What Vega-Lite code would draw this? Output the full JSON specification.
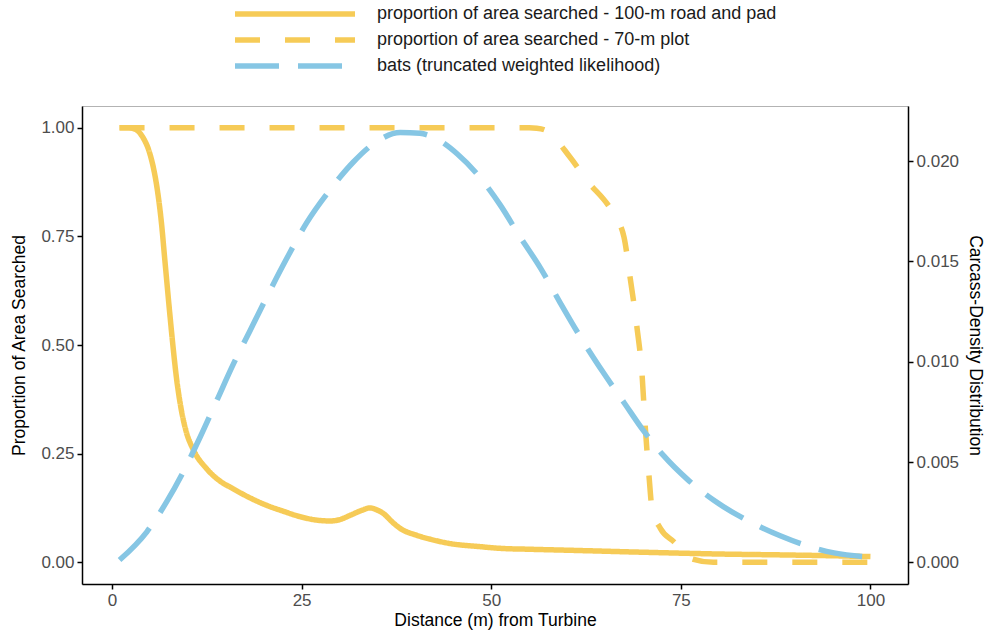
{
  "$schema": "https://vega.github.io/schema/vega-lite/v6.json",
  "width": 826,
  "height": 478,
  "autosize": {"type": "none"},
  "padding": {"left": 82, "top": 106, "right": 83, "bottom": 48},
  "background": "white",
  "config": {
    "view": {"stroke": "#b3b3b3", "strokeWidth": 1},
    "axis": {
      "grid": false,
      "labelFont": "Liberation Sans",
      "titleFont": "Liberation Sans",
      "labelFontSize": 17,
      "labelColor": "#4d4d4d",
      "titleFontSize": 17.5,
      "titleFontWeight": "normal",
      "titleColor": "#000000",
      "domainColor": "#000000",
      "domainWidth": 1.5,
      "tickColor": "#000000",
      "tickWidth": 1.5,
      "tickSize": 5,
      "labelPadding": 3
    },
    "line": {"strokeWidth": 5.5, "strokeCap": "butt", "interpolate": "monotone"}
  },
  "datasets": {
    "props": [
      {"dist": 1, "prop": 1.0, "series": "proportion of area searched - 100-m road and pad"},
      {"dist": 2, "prop": 1.0, "series": "proportion of area searched - 100-m road and pad"},
      {"dist": 3, "prop": 0.997, "series": "proportion of area searched - 100-m road and pad"},
      {"dist": 4, "prop": 0.98, "series": "proportion of area searched - 100-m road and pad"},
      {"dist": 5, "prop": 0.94, "series": "proportion of area searched - 100-m road and pad"},
      {"dist": 5.5, "prop": 0.905, "series": "proportion of area searched - 100-m road and pad"},
      {"dist": 6.0, "prop": 0.855, "series": "proportion of area searched - 100-m road and pad"},
      {"dist": 6.5, "prop": 0.785, "series": "proportion of area searched - 100-m road and pad"},
      {"dist": 7.0, "prop": 0.69, "series": "proportion of area searched - 100-m road and pad"},
      {"dist": 7.5, "prop": 0.595, "series": "proportion of area searched - 100-m road and pad"},
      {"dist": 8.0, "prop": 0.505, "series": "proportion of area searched - 100-m road and pad"},
      {"dist": 8.5, "prop": 0.425, "series": "proportion of area searched - 100-m road and pad"},
      {"dist": 9.1, "prop": 0.355, "series": "proportion of area searched - 100-m road and pad"},
      {"dist": 9.8, "prop": 0.30, "series": "proportion of area searched - 100-m road and pad"},
      {"dist": 10.7, "prop": 0.26, "series": "proportion of area searched - 100-m road and pad"},
      {"dist": 12.5, "prop": 0.215, "series": "proportion of area searched - 100-m road and pad"},
      {"dist": 14, "prop": 0.19, "series": "proportion of area searched - 100-m road and pad"},
      {"dist": 16, "prop": 0.169, "series": "proportion of area searched - 100-m road and pad"},
      {"dist": 18, "prop": 0.15, "series": "proportion of area searched - 100-m road and pad"},
      {"dist": 20.4, "prop": 0.131, "series": "proportion of area searched - 100-m road and pad"},
      {"dist": 22.5, "prop": 0.118, "series": "proportion of area searched - 100-m road and pad"},
      {"dist": 24.8, "prop": 0.105, "series": "proportion of area searched - 100-m road and pad"},
      {"dist": 27, "prop": 0.097, "series": "proportion of area searched - 100-m road and pad"},
      {"dist": 28.8, "prop": 0.095, "series": "proportion of area searched - 100-m road and pad"},
      {"dist": 30, "prop": 0.098, "series": "proportion of area searched - 100-m road and pad"},
      {"dist": 31.4, "prop": 0.108, "series": "proportion of area searched - 100-m road and pad"},
      {"dist": 33, "prop": 0.12, "series": "proportion of area searched - 100-m road and pad"},
      {"dist": 34, "prop": 0.125, "series": "proportion of area searched - 100-m road and pad"},
      {"dist": 35, "prop": 0.12, "series": "proportion of area searched - 100-m road and pad"},
      {"dist": 35.8, "prop": 0.112, "series": "proportion of area searched - 100-m road and pad"},
      {"dist": 37, "prop": 0.092, "series": "proportion of area searched - 100-m road and pad"},
      {"dist": 38, "prop": 0.078, "series": "proportion of area searched - 100-m road and pad"},
      {"dist": 40.2, "prop": 0.062, "series": "proportion of area searched - 100-m road and pad"},
      {"dist": 42, "prop": 0.053, "series": "proportion of area searched - 100-m road and pad"},
      {"dist": 44.6, "prop": 0.043, "series": "proportion of area searched - 100-m road and pad"},
      {"dist": 48.5, "prop": 0.036, "series": "proportion of area searched - 100-m road and pad"},
      {"dist": 51.2, "prop": 0.032, "series": "proportion of area searched - 100-m road and pad"},
      {"dist": 55, "prop": 0.030, "series": "proportion of area searched - 100-m road and pad"},
      {"dist": 61.7, "prop": 0.027, "series": "proportion of area searched - 100-m road and pad"},
      {"dist": 68, "prop": 0.024, "series": "proportion of area searched - 100-m road and pad"},
      {"dist": 74.9, "prop": 0.021, "series": "proportion of area searched - 100-m road and pad"},
      {"dist": 80, "prop": 0.019, "series": "proportion of area searched - 100-m road and pad"},
      {"dist": 88.1, "prop": 0.017, "series": "proportion of area searched - 100-m road and pad"},
      {"dist": 95, "prop": 0.015, "series": "proportion of area searched - 100-m road and pad"},
      {"dist": 100, "prop": 0.013, "series": "proportion of area searched - 100-m road and pad"},
      {"dist": 1, "prop": 1.0, "series": "proportion of area searched - 70-m plot"},
      {"dist": 55, "prop": 1.0, "series": "proportion of area searched - 70-m plot"},
      {"dist": 56, "prop": 0.999, "series": "proportion of area searched - 70-m plot"},
      {"dist": 57.3, "prop": 0.993, "series": "proportion of area searched - 70-m plot"},
      {"dist": 60.4, "prop": 0.932, "series": "proportion of area searched - 70-m plot"},
      {"dist": 62.6, "prop": 0.879, "series": "proportion of area searched - 70-m plot"},
      {"dist": 66.1, "prop": 0.802, "series": "proportion of area searched - 70-m plot"},
      {"dist": 67.5, "prop": 0.749, "series": "proportion of area searched - 70-m plot"},
      {"dist": 68.3, "prop": 0.657, "series": "proportion of area searched - 70-m plot"},
      {"dist": 69.2, "prop": 0.543, "series": "proportion of area searched - 70-m plot"},
      {"dist": 69.9, "prop": 0.429, "series": "proportion of area searched - 70-m plot"},
      {"dist": 70.3, "prop": 0.314, "series": "proportion of area searched - 70-m plot"},
      {"dist": 70.8, "prop": 0.2, "series": "proportion of area searched - 70-m plot"},
      {"dist": 71.2, "prop": 0.124, "series": "proportion of area searched - 70-m plot"},
      {"dist": 72.3, "prop": 0.078, "series": "proportion of area searched - 70-m plot"},
      {"dist": 74.1, "prop": 0.047, "series": "proportion of area searched - 70-m plot"},
      {"dist": 76.3, "prop": 0.009, "series": "proportion of area searched - 70-m plot"},
      {"dist": 79.3, "prop": 0.0, "series": "proportion of area searched - 70-m plot"},
      {"dist": 100, "prop": 0.0, "series": "proportion of area searched - 70-m plot"}
    ],
    "bats": [
      {"dist": 1, "dens": 0.00011, "series": "bats (truncated weighted likelihood)"},
      {"dist": 4.6, "dens": 0.00152, "series": "bats (truncated weighted likelihood)"},
      {"dist": 7.2, "dens": 0.00301, "series": "bats (truncated weighted likelihood)"},
      {"dist": 9.4, "dens": 0.00451, "series": "bats (truncated weighted likelihood)"},
      {"dist": 11.6, "dens": 0.00622, "series": "bats (truncated weighted likelihood)"},
      {"dist": 13.8, "dens": 0.00805, "series": "bats (truncated weighted likelihood)"},
      {"dist": 16.0, "dens": 0.00988, "series": "bats (truncated weighted likelihood)"},
      {"dist": 18.2, "dens": 0.01155, "series": "bats (truncated weighted likelihood)"},
      {"dist": 20.4, "dens": 0.01322, "series": "bats (truncated weighted likelihood)"},
      {"dist": 23.0, "dens": 0.01512, "series": "bats (truncated weighted likelihood)"},
      {"dist": 25.7, "dens": 0.01695, "series": "bats (truncated weighted likelihood)"},
      {"dist": 28.8, "dens": 0.01860, "series": "bats (truncated weighted likelihood)"},
      {"dist": 31.8, "dens": 0.01995, "series": "bats (truncated weighted likelihood)"},
      {"dist": 34.9, "dens": 0.02098, "series": "bats (truncated weighted likelihood)"},
      {"dist": 38, "dens": 0.02143, "series": "bats (truncated weighted likelihood)"},
      {"dist": 40.6, "dens": 0.02139, "series": "bats (truncated weighted likelihood)"},
      {"dist": 42.8, "dens": 0.02111, "series": "bats (truncated weighted likelihood)"},
      {"dist": 45.5, "dens": 0.02037, "series": "bats (truncated weighted likelihood)"},
      {"dist": 48.5, "dens": 0.0192, "series": "bats (truncated weighted likelihood)"},
      {"dist": 51.2, "dens": 0.01781, "series": "bats (truncated weighted likelihood)"},
      {"dist": 53.8, "dens": 0.01623, "series": "bats (truncated weighted likelihood)"},
      {"dist": 56.5, "dens": 0.01467, "series": "bats (truncated weighted likelihood)"},
      {"dist": 59.1, "dens": 0.01294, "series": "bats (truncated weighted likelihood)"},
      {"dist": 61.7, "dens": 0.01127, "series": "bats (truncated weighted likelihood)"},
      {"dist": 64.8, "dens": 0.00945, "series": "bats (truncated weighted likelihood)"},
      {"dist": 67.5, "dens": 0.00797, "series": "bats (truncated weighted likelihood)"},
      {"dist": 70.1, "dens": 0.00655, "series": "bats (truncated weighted likelihood)"},
      {"dist": 72.7, "dens": 0.00533, "series": "bats (truncated weighted likelihood)"},
      {"dist": 75.8, "dens": 0.00416, "series": "bats (truncated weighted likelihood)"},
      {"dist": 79.3, "dens": 0.00310, "series": "bats (truncated weighted likelihood)"},
      {"dist": 83.7, "dens": 0.00210, "series": "bats (truncated weighted likelihood)"},
      {"dist": 88.1, "dens": 0.00132, "series": "bats (truncated weighted likelihood)"},
      {"dist": 92.5, "dens": 0.00072, "series": "bats (truncated weighted likelihood)"},
      {"dist": 95.2, "dens": 0.00047, "series": "bats (truncated weighted likelihood)"},
      {"dist": 100, "dens": 0.00026, "series": "bats (truncated weighted likelihood)"}
    ]
  },
  "layer": [
    {
      "data": {"name": "props"},
      "mark": {"type": "line"},
      "encoding": {
        "x": {
          "field": "dist", "type": "quantitative",
          "scale": {"domain": [-3.95, 104.95], "nice": false, "zero": false},
          "axis": {"values": [0, 25, 50, 75, 100], "title": "Distance (m) from Turbine", "titlePadding": 3}
        },
        "y": {
          "field": "prop", "type": "quantitative",
          "scale": {"domain": [-0.05, 1.05], "nice": false, "zero": false},
          "axis": {"values": [0, 0.25, 0.5, 0.75, 1], "format": ".2f", "title": "Proportion of Area Searched", "titlePadding": 12}
        },
        "color": {
          "field": "series", "type": "nominal",
          "scale": {
            "domain": ["proportion of area searched - 100-m road and pad", "proportion of area searched - 70-m plot", "bats (truncated weighted likelihood)"],
            "range": ["#F6CB57", "#F6CB57", "#86C6E4"]
          },
          "legend": {
            "orient": "none", "legendX": 150, "legendY": -104, "title": null,
            "symbolType": "stroke", "symbolSize": 14400, "symbolStrokeWidth": 5,
            "labelFontSize": 18, "labelFont": "Liberation Sans", "labelColor": "#1a1a1a", "labelLimit": 0,
            "clipHeight": 24, "rowPadding": 2, "labelOffset": 19, "padding": 0
          }
        },
        "strokeDash": {
          "field": "series", "type": "nominal",
          "scale": {
            "domain": ["proportion of area searched - 100-m road and pad", "proportion of area searched - 70-m plot", "bats (truncated weighted likelihood)"],
            "range": [[1, 0], [25, 25], [44, 19]]
          },
          "legend": {
            "orient": "none", "legendX": 150, "legendY": -104, "title": null,
            "symbolType": "stroke", "symbolSize": 14400, "symbolStrokeWidth": 5,
            "labelFontSize": 18, "labelFont": "Liberation Sans", "labelColor": "#1a1a1a", "labelLimit": 0,
            "clipHeight": 24, "rowPadding": 2, "labelOffset": 19, "padding": 0
          }
        }
      }
    },
    {
      "data": {"name": "bats"},
      "mark": {"type": "line"},
      "encoding": {
        "x": {"field": "dist", "type": "quantitative"},
        "y": {
          "field": "dens", "type": "quantitative",
          "scale": {"domain": [-0.0010835, 0.0227535], "nice": false, "zero": false},
          "axis": {"orient": "right", "values": [0, 0.005, 0.01, 0.015, 0.02], "format": ".3f", "title": "Carcass-Density Distribution", "titlePadding": 7}
        },
        "color": {"field": "series", "type": "nominal"},
        "strokeDash": {"field": "series", "type": "nominal"}
      }
    }
  ],
  "resolve": {"scale": {"y": "independent"}}
}
